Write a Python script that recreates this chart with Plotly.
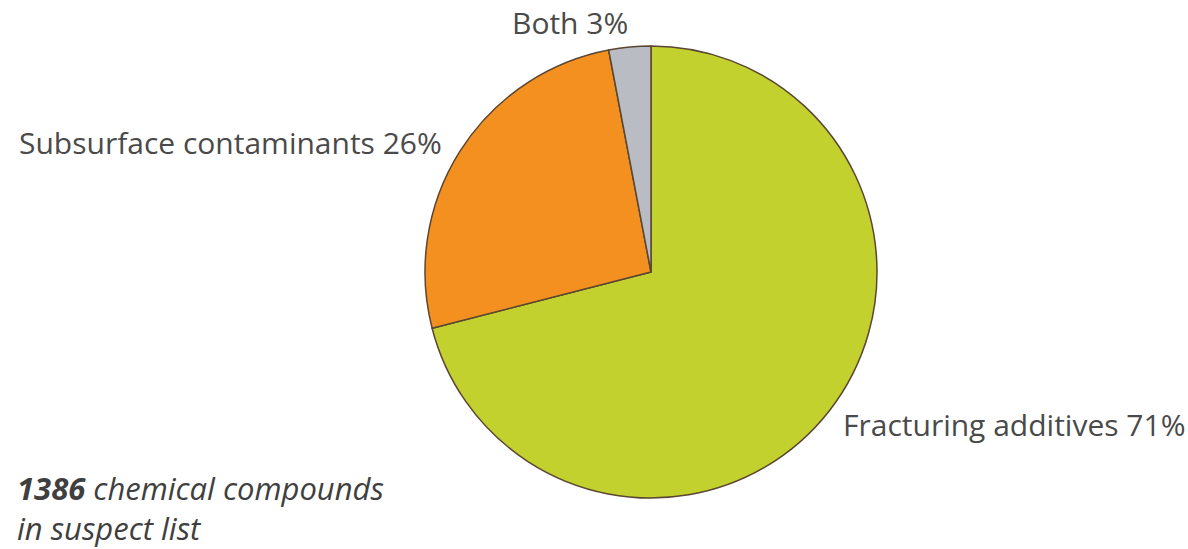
import plotly.graph_objects as go

# Share of suspect-list compounds by origin
categories = ["Fracturing additives", "Subsurface contaminants", "Both"]
shares = [71, 26, 3]
colors = ["#c3d12e", "#f39020", "#b9bcc3"]
total_compounds = 1386

W, H = 1188, 549
cx, cy, r = 651, 272, 226

fig = go.Figure(
    go.Pie(
        labels=categories,
        values=shares,
        sort=False,
        direction="clockwise",
        rotation=0,
        marker=dict(colors=colors, line=dict(color="#5a4632", width=1.5)),
        textinfo="none",
        hoverinfo="label+percent",
        domain=dict(
            x=[(cx - r) / W, (cx + r) / W],
            y=[1 - (cy + r) / H, 1 - (cy - r) / H],
        ),
    )
)

font = dict(family="Open Sans, Noto Sans, sans-serif", size=30, color="#4a4a4a")

# (x pixel, y pixel, horizontal anchor, vertical anchor)
label_pos = {
    "Both": (570, 0, "center", "top"),
    "Subsurface contaminants": (17, 142, "left", "middle"),
    "Fracturing additives": (841, 424, "left", "middle"),
}

annotations = []
for name, val in zip(categories, shares):
    x, y, xa, ya = label_pos[name]
    annotations.append(
        dict(
            x=x / W, y=1 - y / H, xref="paper", yref="paper",
            text=f"{name} {val}%", showarrow=False,
            xanchor=xa, yanchor=ya, font=font,
        )
    )

annotations.append(
    dict(
        x=15 / W, y=1 - 508 / H, xref="paper", yref="paper",
        text=f"<b><i>{total_compounds}</i></b><i> chemical compounds<br>in suspect list</i>",
        showarrow=False, xanchor="left", yanchor="middle", align="left",
        font=dict(family=font["family"], size=31, color="#3f3f3f"),
    )
)

fig.update_layout(
    width=W, height=H,
    margin=dict(l=0, r=0, t=0, b=0),
    paper_bgcolor="white",
    plot_bgcolor="white",
    showlegend=False,
    annotations=annotations,
)

fig.write_html("out.html")
